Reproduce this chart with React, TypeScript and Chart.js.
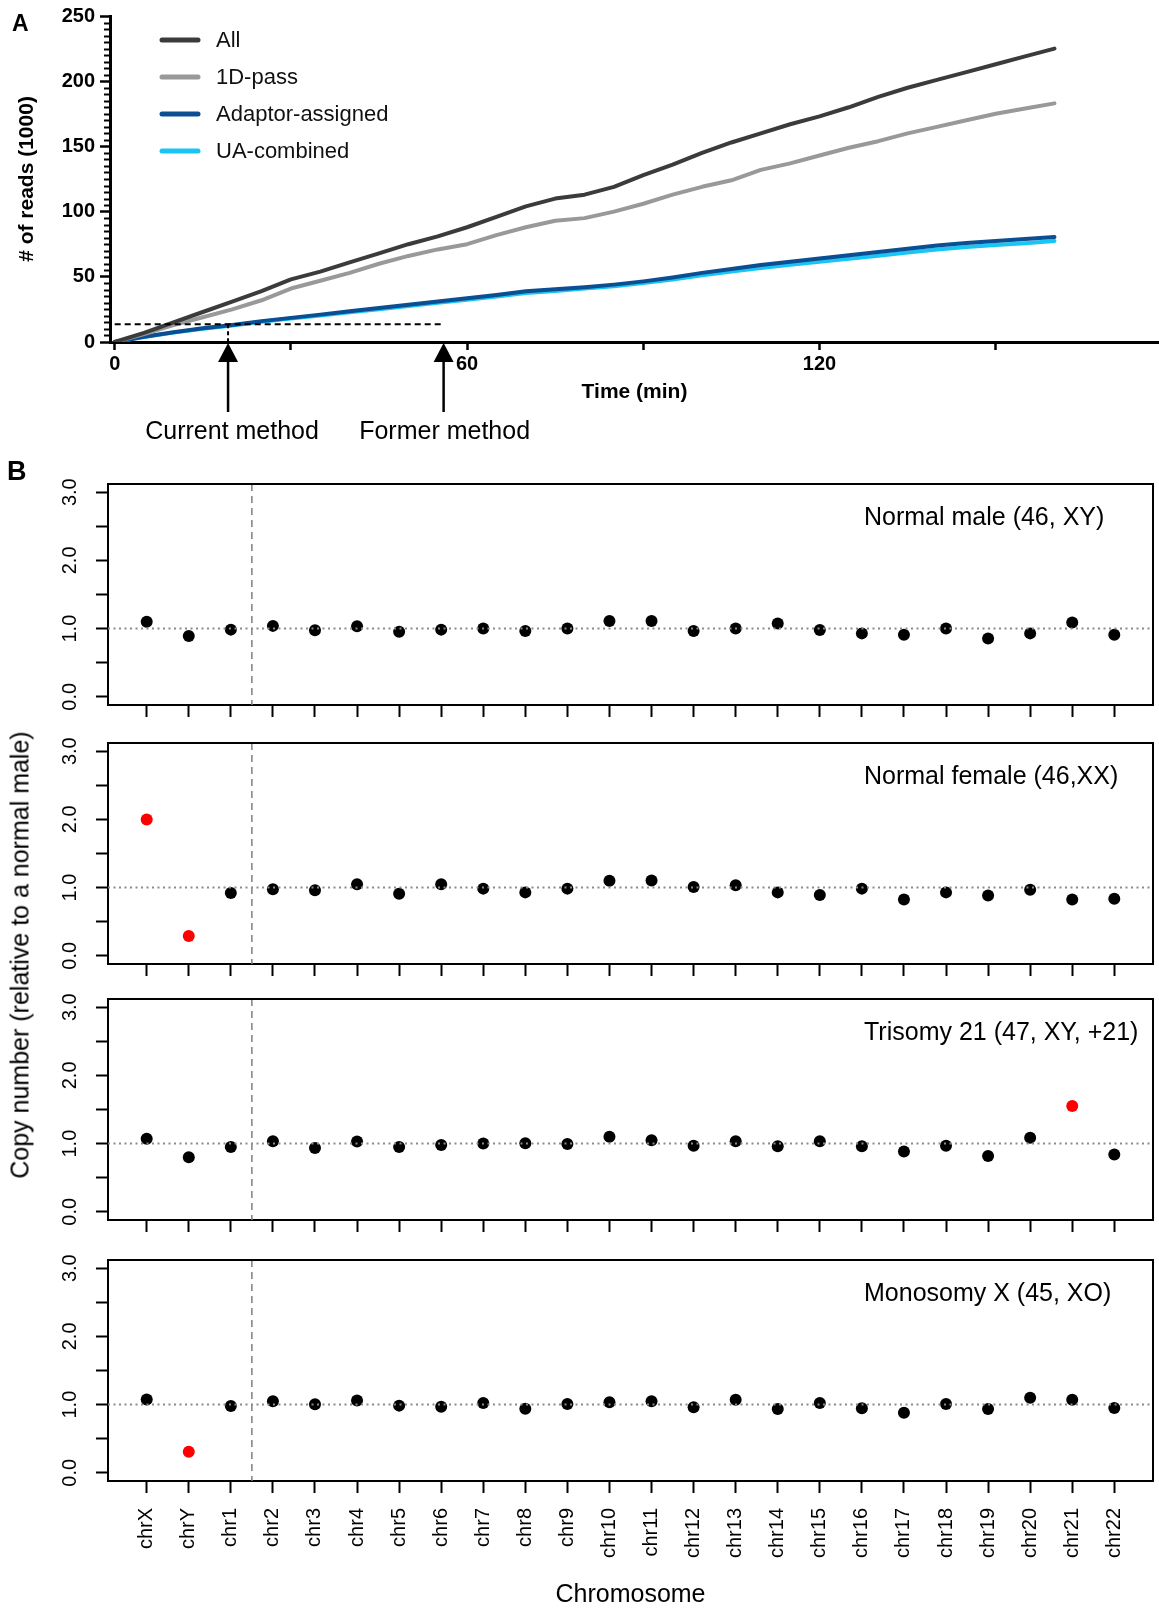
import React, { useEffect, useRef } from 'react';
import { Chart, registerables } from 'chart.js';

Chart.register(...registerables);

// ---------------- Panel A data ----------------
const timeMin = [0, 5, 10, 15, 20, 25, 30, 35, 40, 45, 50, 55, 60, 65, 70, 75, 80, 85, 90, 95, 100, 105, 110, 115, 120, 125, 130, 135, 140, 145, 150, 155, 160];
const readsAll = [0, 7, 15, 23, 31, 39, 48, 54, 61, 68, 75, 81, 88, 96, 104, 110, 113, 119, 128, 136, 145, 153, 160, 167, 173, 180, 188, 195, 201, 207, 213, 219, 225];
const reads1DPass = [0, 6, 13, 19, 25, 32, 41, 47, 53, 60, 66, 71, 75, 82, 88, 93, 95, 100, 106, 113, 119, 124, 132, 137, 143, 149, 154, 160, 165, 170, 175, 179, 183];
const readsAdaptorAssigned = [0, 4, 7.5, 10.5, 13, 16, 18.5, 21, 23.5, 26, 28.5, 31, 33.5, 36, 39, 40.5, 42, 44, 46.5, 49.5, 53, 56, 59, 61.5, 64, 66.5, 69, 71.5, 74, 76, 77.5, 79, 80.5];
const readsUACombined = [0, 3.8, 7.2, 10.2, 12.6, 15.5, 18, 20.4, 22.8, 25.2, 27.6, 30, 32.4, 34.8, 37.6, 39.2, 41, 42.8, 45.2, 48, 51.2, 54, 56.8, 59.2, 61.5, 63.8, 66.2, 68.6, 71, 72.8, 74.3, 75.8, 77.5];
const seriesNames = ['All', '1D-pass', 'Adaptor-assigned', 'UA-combined'];
const timeTicks = [0, 30, 60, 90, 120, 150];
const timeLabelledTicks = [0, 60, 120];
const readTicks = [0, 50, 100, 150, 200, 250];
const readMinorStep = 5;
const thresholdReads = 13.6;
const currentMethodTime = 19.3;
const formerMethodTime = 56;
const methodLabels = ['Current method', 'Former method'];

// ---------------- Panel B data ----------------
const chromosomes = ['chrX', 'chrY', 'chr1', 'chr2', 'chr3', 'chr4', 'chr5', 'chr6', 'chr7', 'chr8', 'chr9', 'chr10', 'chr11', 'chr12', 'chr13', 'chr14', 'chr15', 'chr16', 'chr17', 'chr18', 'chr19', 'chr20', 'chr21', 'chr22'];
const sampleNames = ['Normal male (46, XY)', 'Normal female (46,XX)', 'Trisomy 21 (47, XY, +21)', 'Monosomy X (45, XO)'];
const copyNormalMale = [1.1, 0.89, 0.985, 1.04, 0.975, 1.035, 0.955, 0.985, 1.0, 0.965, 1.0, 1.11, 1.11, 0.965, 1.0, 1.075, 0.98, 0.93, 0.91, 1.0, 0.855, 0.93, 1.09, 0.91];
const copyNormalFemale = [2.0, 0.29, 0.92, 0.975, 0.96, 1.05, 0.91, 1.05, 0.985, 0.93, 0.985, 1.1, 1.105, 1.01, 1.035, 0.93, 0.89, 0.985, 0.825, 0.93, 0.885, 0.97, 0.825, 0.835];
const copyTrisomy21 = [1.07, 0.8, 0.95, 1.035, 0.935, 1.03, 0.95, 0.98, 1.0, 1.005, 0.995, 1.1, 1.05, 0.97, 1.035, 0.96, 1.035, 0.96, 0.885, 0.97, 0.82, 1.085, 1.55, 0.84];
const copyMonosomyX = [1.075, 0.31, 0.98, 1.05, 1.005, 1.06, 0.985, 0.97, 1.025, 0.94, 1.01, 1.035, 1.05, 0.96, 1.07, 0.935, 1.025, 0.945, 0.88, 1.01, 0.935, 1.1, 1.07, 0.95];
const aberrantNormalMale: string[] = [];
const aberrantNormalFemale = ['chrX', 'chrY'];
const aberrantTrisomy21 = ['chr21'];
const aberrantMonosomyX = ['chrY'];
const copyTicks = [0, 0.5, 1, 1.5, 2, 2.5, 3];
const referenceCopy = 1.0;
const sexAutosomeDivider = 2.5;

const panelValues = [copyNormalMale, copyNormalFemale, copyTrisomy21, copyMonosomyX];
const panelAberrant = [aberrantNormalMale, aberrantNormalFemale, aberrantTrisomy21, aberrantMonosomyX];

// ---------------- layout / style ----------------
const FONT = '"Liberation Sans", Arial, Helvetica, sans-serif';
const W = 1159;
const A_H = 450;
const PANEL_TOPS = [484, 743, 999, 1260];
const BOX_H = 221;
const PAD_TOP = 20;
const AXIS_H = [30, 30, 30, 129];
const lineColors = ['#3b3b3b', '#999999', '#0b4e92', '#18c5f5'];

const panelAExtras = {
  id: 'panelAExtras',
  afterDatasetsDraw(chart: any) {
    const { ctx, chartArea, scales } = chart;
    const x = scales.x;
    const y = scales.y;
    ctx.save();
    // minor y ticks
    ctx.strokeStyle = '#000';
    ctx.lineWidth = 2;
    const yMax = readTicks[readTicks.length - 1];
    for (let v = 0; v <= yMax; v += readMinorStep) {
      if (readTicks.includes(v)) continue;
      const py = Math.round(y.getPixelForValue(v)) + 0.5;
      ctx.beginPath();
      ctx.moveTo(chartArea.left - 6, py);
      ctx.lineTo(chartArea.left, py);
      ctx.stroke();
    }
    // threshold dashed line
    const ty = y.getPixelForValue(thresholdReads);
    ctx.setLineDash([6, 4]);
    ctx.lineWidth = 2;
    ctx.beginPath();
    ctx.moveTo(x.getPixelForValue(0), ty);
    ctx.lineTo(x.getPixelForValue(formerMethodTime), ty);
    ctx.stroke();
    ctx.setLineDash([4, 3]);
    const cx = x.getPixelForValue(currentMethodTime);
    ctx.beginPath();
    ctx.moveTo(cx, ty);
    ctx.lineTo(cx, y.getPixelForValue(0));
    ctx.stroke();
    ctx.setLineDash([]);
    // arrows and labels
    [currentMethodTime, formerMethodTime].forEach((t, i) => {
      const px = x.getPixelForValue(t);
      const tip = chartArea.bottom + 1;
      const base = chartArea.bottom + 20;
      ctx.fillStyle = '#000';
      ctx.beginPath();
      ctx.moveTo(px, tip);
      ctx.lineTo(px - 10, base);
      ctx.lineTo(px + 10, base);
      ctx.closePath();
      ctx.fill();
      ctx.lineWidth = 2.5;
      ctx.beginPath();
      ctx.moveTo(px, base - 1);
      ctx.lineTo(px, chartArea.bottom + 70);
      ctx.stroke();
      ctx.font = `25px ${FONT}`;
      ctx.textAlign = 'center';
      ctx.textBaseline = 'middle';
      ctx.fillText(methodLabels[i], px + (i === 0 ? 4 : 1), chartArea.bottom + 90);
    });
    // legend
    chart.data.datasets.forEach((ds: any, i: number) => {
      const ly = chartArea.top + 24 + i * 37;
      ctx.strokeStyle = ds.borderColor;
      ctx.lineWidth = 5;
      ctx.lineCap = 'round';
      ctx.beginPath();
      ctx.moveTo(chartArea.left + 52, ly);
      ctx.lineTo(chartArea.left + 88, ly);
      ctx.stroke();
      ctx.fillStyle = '#111';
      ctx.font = `22px ${FONT}`;
      ctx.textAlign = 'left';
      ctx.textBaseline = 'middle';
      ctx.fillText(ds.label, chartArea.left + 106, ly + 1);
    });
    ctx.restore();
  },
};

function makePanelBExtras(idx: number) {
  return {
    id: 'panelBExtras' + idx,
    beforeDatasetsDraw(chart: any) {
      const { ctx, chartArea, scales } = chart;
      const dx = scales.x.getPixelForValue(sexAutosomeDivider);
      ctx.save();
      ctx.strokeStyle = '#808080';
      ctx.lineWidth = 1.5;
      ctx.setLineDash([7, 5]);
      ctx.beginPath();
      ctx.moveTo(dx, chartArea.top);
      ctx.lineTo(dx, chartArea.bottom);
      ctx.stroke();
      ctx.restore();
    },
    afterDatasetsDraw(chart: any) {
      const { ctx, chartArea, scales } = chart;
      ctx.save();
      const ry = scales.y.getPixelForValue(referenceCopy);
      ctx.strokeStyle = '#8a8a8a';
      ctx.lineWidth = 2;
      ctx.setLineDash([2, 3.5]);
      ctx.beginPath();
      ctx.moveTo(chartArea.left, ry);
      ctx.lineTo(chartArea.right, ry);
      ctx.stroke();
      ctx.setLineDash([]);
      ctx.strokeStyle = '#000';
      ctx.lineWidth = 2;
      ctx.beginPath();
      ctx.moveTo(chartArea.left, chartArea.top);
      ctx.lineTo(chartArea.right, chartArea.top);
      ctx.lineTo(chartArea.right, chartArea.bottom);
      ctx.stroke();
      ctx.fillStyle = '#000';
      ctx.font = `25px ${FONT}`;
      ctx.textAlign = 'left';
      ctx.textBaseline = 'middle';
      ctx.fillText(sampleNames[idx], 864, chartArea.top + 34);
      ctx.restore();
    },
  };
}

function buildPanelA(): any {
  const series = [readsAll, reads1DPass, readsAdaptorAssigned, readsUACombined];
  return {
    type: 'line',
    data: {
      datasets: series.map((vals, i) => ({
        label: seriesNames[i],
        data: timeMin.map((t, j) => ({ x: t, y: vals[j] })),
        borderColor: lineColors[i],
        backgroundColor: lineColors[i],
        borderWidth: 4,
        pointRadius: 0,
        tension: 0,
        borderCapStyle: 'round',
        borderJoinStyle: 'round',
        fill: false,
      })),
    },
    options: {
      responsive: false,
      animation: false,
      devicePixelRatio: 1,
      layout: { padding: { top: 16, left: 0, right: 0, bottom: 0 } },
      plugins: { legend: { display: false }, tooltip: { enabled: false } },
      scales: {
        x: {
          type: 'linear',
          min: -0.8,
          max: 177.8,
          afterBuildTicks: (s: any) => { s.ticks = timeTicks.map((v) => ({ value: v })); },
          afterFit: (s: any) => { s.height = A_H - 342; s.paddingLeft = 0; s.paddingRight = 0; },
          ticks: {
            autoSkip: false, minRotation: 0, maxRotation: 0, padding: 2, color: '#000',
            font: { family: FONT, size: 20, weight: 'bold' },
            callback: (v: number) => (timeLabelledTicks.includes(v) ? String(v) : ''),
          },
          grid: { drawOnChartArea: false, drawTicks: true, tickLength: 8, tickWidth: 2.5, tickColor: '#000' },
          border: { display: true, color: '#000', width: 3 },
          title: { display: true, text: 'Time (min)', color: '#000', font: { family: FONT, size: 21, weight: 'bold' }, padding: { top: 0, bottom: 45 } },
        },
        y: {
          type: 'linear',
          min: 0,
          max: 250,
          afterBuildTicks: (s: any) => { s.ticks = readTicks.map((v) => ({ value: v })); },
          afterFit: (s: any) => { s.width = 110; s.paddingTop = 0; s.paddingBottom = 0; },
          ticks: { autoSkip: false, padding: 5, color: '#000', font: { family: FONT, size: 20, weight: 'bold' } },
          grid: { drawOnChartArea: false, drawTicks: true, tickLength: 10, tickWidth: 2.5, tickColor: '#000' },
          border: { display: true, color: '#000', width: 3 },
          title: { display: true, text: '# of reads (1000)', color: '#000', font: { family: FONT, size: 21, weight: 'bold' }, padding: { top: 15, bottom: 0 } },
        },
      },
    },
    plugins: [panelAExtras],
  };
}

function buildPanelB(idx: number): any {
  const isLast = idx === 3;
  const vals = panelValues[idx];
  const aberrant = panelAberrant[idx];
  const colors = chromosomes.map((c) => (aberrant.includes(c) ? '#ff0000' : '#000000'));
  return {
    type: 'scatter',
    data: {
      datasets: [{
        label: sampleNames[idx],
        data: chromosomes.map((_, i) => ({ x: i, y: vals[i] })),
        pointRadius: 6,
        pointBackgroundColor: colors,
        pointBorderColor: colors,
        pointBorderWidth: 0,
      }],
    },
    options: {
      responsive: false,
      animation: false,
      devicePixelRatio: 1,
      layout: { padding: { top: PAD_TOP, left: 0, right: 1, bottom: 0 } },
      plugins: { legend: { display: false }, tooltip: { enabled: false } },
      scales: {
        x: {
          type: 'linear',
          min: -0.92,
          max: 23.92,
          afterBuildTicks: (s: any) => { s.ticks = chromosomes.map((_, i) => ({ value: i })); },
          afterFit: (s: any) => { s.height = AXIS_H[idx]; s.paddingLeft = 0; s.paddingRight = 0; },
          ticks: {
            autoSkip: false,
            minRotation: isLast ? 90 : 0,
            maxRotation: isLast ? 90 : 0,
            padding: 15,
            color: '#000',
            font: { family: FONT, size: 20 },
            callback: (v: number) => (isLast ? chromosomes[v] : ''),
          },
          grid: { drawOnChartArea: false, drawTicks: true, tickLength: 12, tickWidth: 2, tickColor: '#000' },
          border: { display: true, color: '#000', width: 2 },
          title: { display: isLast, text: 'Chromosome', color: '#000', font: { family: FONT, size: 25 }, padding: { top: 0, bottom: 0 } },
        },
        y: {
          type: 'linear',
          min: -0.12,
          max: 3.12,
          afterBuildTicks: (s: any) => { s.ticks = copyTicks.map((v) => ({ value: v })); },
          afterFit: (s: any) => { s.width = 108; s.paddingTop = 0; s.paddingBottom = 0; },
          ticks: {
            autoSkip: false,
            minRotation: 90,
            maxRotation: 90,
            crossAlign: 'center',
            padding: 12,
            color: '#000',
            font: { family: FONT, size: 20 },
            callback: (v: number) => (Number.isInteger(v) ? v.toFixed(1) : ''),
          },
          grid: { drawOnChartArea: false, drawTicks: true, tickLength: 12, tickWidth: 2, tickColor: '#000' },
          border: { display: true, color: '#000', width: 2 },
        },
      },
    },
    plugins: [makePanelBExtras(idx)],
  };
}

export default function App() {
  const aRef = useRef<HTMLCanvasElement | null>(null);
  const bRefs = useRef<(HTMLCanvasElement | null)[]>([]);

  useEffect(() => {
    const charts: Chart[] = [];
    if (aRef.current) charts.push(new Chart(aRef.current, buildPanelA()));
    PANEL_TOPS.forEach((_, i) => {
      const c = bRefs.current[i];
      if (c) charts.push(new Chart(c, buildPanelB(i)));
    });
    return () => charts.forEach((c) => c.destroy());
  }, []);

  return (
    <div style={{ position: 'absolute', left: 0, top: 0, width: W, height: 1610, background: '#fff', overflow: 'hidden', fontFamily: FONT }}>
      <canvas ref={aRef} width={W} height={A_H} style={{ position: 'absolute', left: 0, top: 0 }} />
      {PANEL_TOPS.map((top, i) => (
        <canvas
          key={i}
          ref={(el) => { bRefs.current[i] = el; }}
          width={W}
          height={PAD_TOP + BOX_H + AXIS_H[i]}
          style={{ position: 'absolute', left: 0, top: top - PAD_TOP }}
        />
      ))}
      <div style={{ position: 'absolute', left: 12, top: 12, font: `bold 23px ${FONT}`, lineHeight: '23px', color: '#000' }}>A</div>
      <div style={{ position: 'absolute', left: 7, top: 458, font: `bold 27px ${FONT}`, lineHeight: '27px', color: '#000' }}>B</div>
      <div
        style={{
          position: 'absolute', left: 20, top: 955, transform: 'translate(-50%, -50%) rotate(-90deg)',
          whiteSpace: 'nowrap', font: `25px ${FONT}`, color: '#000',
        }}
      >
        Copy number (relative to a normal male)
      </div>
    </div>
  );
}
